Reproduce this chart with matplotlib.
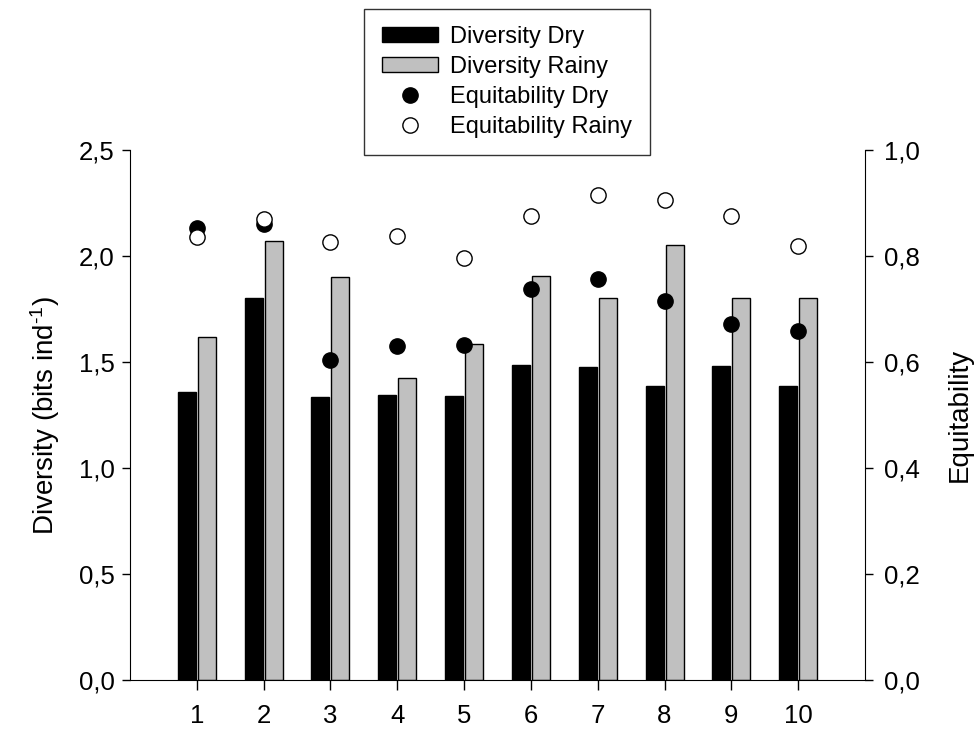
import matplotlib
matplotlib.use("Agg")
import matplotlib.pyplot as plt
import numpy as np
from matplotlib.patches import Patch
from matplotlib.lines import Line2D

plt.rcParams['font.family'] = ['Liberation Sans', 'DejaVu Sans']
plt.rcParams['mathtext.fontset'] = 'custom'
plt.rcParams['mathtext.rm'] = 'Liberation Sans'
plt.rcParams['mathtext.it'] = 'Liberation Sans:italic'
plt.rcParams['mathtext.bf'] = 'Liberation Sans:bold'

sites = [1, 2, 3, 4, 5, 6, 7, 8, 9, 10]
div_dry = [1.36, 1.80, 1.335, 1.343, 1.34, 1.488, 1.476, 1.385, 1.48, 1.388]
div_rainy = [1.62, 2.07, 1.90, 1.423, 1.586, 1.906, 1.80, 2.052, 1.80, 1.80]
eq_dry = [0.852, 0.860, 0.604, 0.631, 0.633, 0.737, 0.757, 0.715, 0.672, 0.659]
eq_rainy = [0.836, 0.870, 0.826, 0.838, 0.796, 0.875, 0.916, 0.906, 0.875, 0.819]

yticks_left = [0.0, 0.5, 1.0, 1.5, 2.0, 2.5]
yticks_right = [0.0, 0.2, 0.4, 0.6, 0.8, 1.0]

def comma(v, nd):
    return f"{v:.{nd}f}".replace('.', ',')

fig = plt.figure(figsize=(9.8, 7.32), dpi=100)
ax = fig.add_axes([130/980, 1-680/732, (865-130)/980, (680-150)/732])
ax2 = ax.twinx()

x = np.array(sites, dtype=float)
w = 0.27
ax.bar(x - 0.15, div_dry, width=w, color='black', edgecolor='black', linewidth=1.0, zorder=2)
ax.bar(x + 0.15, div_rainy, width=w, color='#c0c0c0', edgecolor='black', linewidth=1.0, zorder=2)

ax2.plot(x, eq_dry, 'o', color='black', markersize=11, markeredgecolor='black', zorder=3)
ax2.plot(x, eq_rainy, 'o', markerfacecolor='white', markeredgecolor='black', markersize=11, markeredgewidth=1.0, zorder=3)

ax.set_xlim(0, 11)
ax.set_ylim(0, 2.5)
ax2.set_ylim(0, 1.0)
ax.set_xticks(x)
ax.set_xticklabels([str(s) for s in sites])
ax.set_yticks(yticks_left)
ax.set_yticklabels([comma(v, 1) for v in yticks_left])
ax2.set_yticks(yticks_right)
ax2.set_yticklabels([comma(v, 1) for v in yticks_right])

for a in (ax, ax2):
    a.spines['top'].set_visible(False)
    a.tick_params(labelsize=18.5, direction='out', length=6, width=1.0, pad=8)
ax.spines['right'].set_visible(False)
ax2.spines['left'].set_visible(False)
ax2.spines['bottom'].set_visible(False)
ax.tick_params(axis='y', pad=5)
ax.tick_params(axis='x', length=7, pad=10)

ax.set_ylabel('Diversity (bits ind$^{\\text{-}1}$)', fontsize=20, labelpad=12)
ax2.set_ylabel('Equitability', fontsize=20, labelpad=19)

handles = [
    Patch(facecolor='black', edgecolor='black', label='Diversity Dry'),
    Patch(facecolor='#c0c0c0', edgecolor='black', label='Diversity Rainy'),
    Line2D([], [], marker='o', linestyle='none', color='black', markersize=11, label='Equitability Dry'),
    Line2D([], [], marker='o', linestyle='none', markerfacecolor='white', markeredgecolor='black', markersize=11, label='Equitability Rainy'),
]
leg = fig.legend(handles=handles, loc='center', bbox_to_anchor=(507/980, 1-82/732),
                 fontsize=17, frameon=True, fancybox=False, edgecolor='black',
                 handlelength=2.4, handleheight=0.6, handletextpad=0.5,
                 labelspacing=0.33, borderpad=0.75, borderaxespad=0)
leg.get_frame().set_linewidth(1.0)
leg.set_zorder(10)

fig.savefig('out.png', dpi=100)
